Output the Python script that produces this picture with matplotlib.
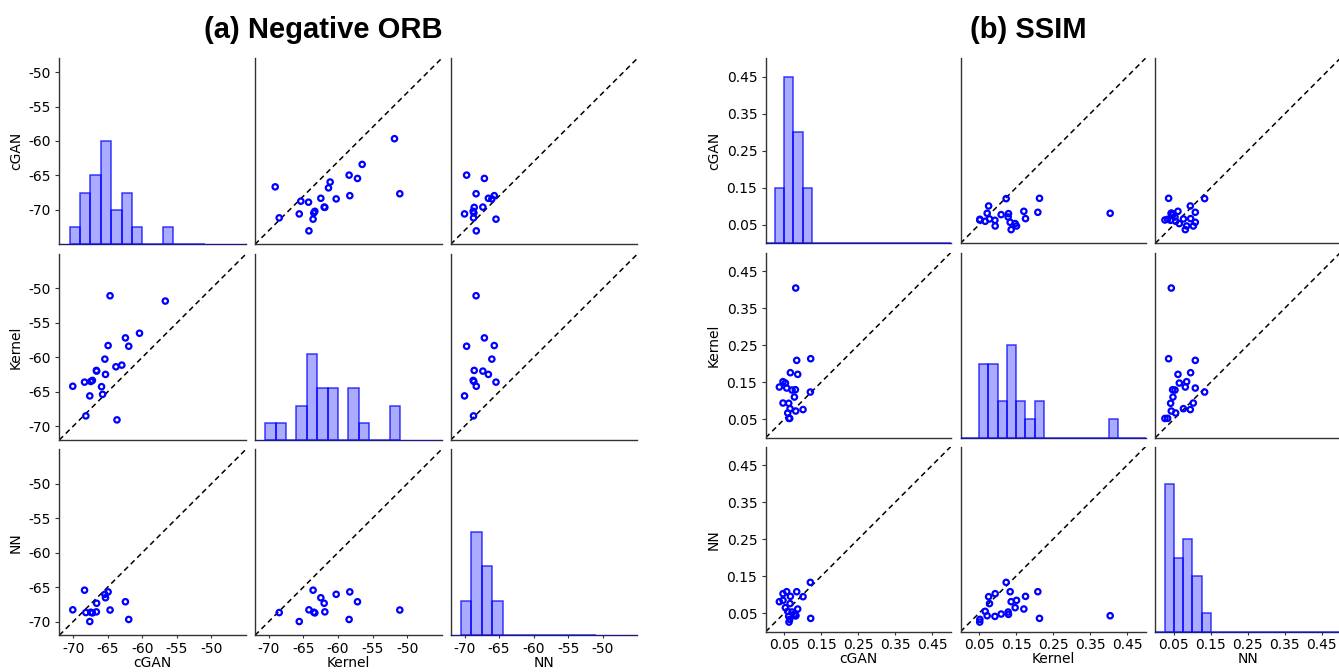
import numpy as np
import matplotlib
matplotlib.use("Agg")
import matplotlib.pyplot as plt

plt.rcParams['axes.unicode_minus'] = False
plt.rcParams['font.family'] = ['DejaVu Sans']

nan = np.nan
variables = ["cGAN", "Kernel", "NN"]

# ---- (a) Negative ORB ----
orb_cgan = [-70.05, -68.35, -68.16, -67.59, -67.45, -67.21, -66.64, -65.89, -65.74, -65.41,
            -65.32, -64.94, -64.66, -63.81, -63.66, -62.96, -62.44, -61.96, -60.40, -56.67, -66.60]
orb_kernel = [-64.20, -63.60, -68.50, -65.60, -63.50, -63.35, -61.90, -64.26, -65.37, -60.26,
              -62.48, -58.29, -51.06, -61.37, -69.08, -61.13, -57.18, -58.39, -56.50, -51.83, -62.00]
orb_nn = [-68.30, -65.45, -68.70, -70.00, -68.65, -68.75, -68.60, nan, nan, -66.05,
          -66.55, -65.70, -68.33, nan, nan, nan, -67.13, -69.70, nan, nan, -67.35]
orb_ticks = [-70, -65, -60, -55, -50]
orb_ticklabels = ["-70", "-65", "-60", "-55", "-50"]
orb_row0_label_shift = 3.0

# ---- (b) SSIM ----
ssim_cgan = [0.0811, 0.0838, 0.1216, 0.0667, 0.0865, 0.0468, 0.0532, 0.0369, 0.0568, 0.0712,
             0.0802, 0.1207, 0.0775, 0.0468, 0.0622, 0.0658, 0.1009, 0.0811, 0.0595, 0.0649, 0.0630]
ssim_kernel = [0.4045, 0.2090, 0.2135, 0.1757, 0.1712, 0.1514, 0.1477, 0.1369, 0.1342, 0.1288,
               0.1297, 0.1234, 0.1099, 0.0937, 0.0930, 0.0784, 0.0760, 0.0721, 0.0667, 0.0523, 0.0520]
ssim_nn = [0.0432, 0.1081, 0.0360, 0.0955, 0.0613, 0.0847, 0.0649, 0.0811, 0.1081, 0.0532,
           0.0468, 0.1333, 0.0477, 0.1027, 0.0414, 0.0760, 0.0946, 0.0432, 0.0550, 0.0333, 0.0260]
ssim_ticks = [0.05, 0.15, 0.25, 0.35, 0.45]
ssim_ticklabels = ["0.05", "0.15", "0.25", "0.35", "0.45"]

W, H = 1339, 672
fig = plt.figure(figsize=(W / 100, H / 100), dpi=100)


def px_axes(left, top, w, h):
    return fig.add_axes([left / W, 1 - (top + h) / H, w / W, h / H])


def draw_panel(data, lim, ticks, ticklabels, bins, col_lefts, row_tops, w, h,
               hist_top, row0_shift=0.0):
    for i in range(3):
        for j in range(3):
            ax = px_axes(col_lefts[j], row_tops[i], w, h)
            ax.set_xlim(lim)
            ax.set_ylim(lim)
            for s in ("top", "right"):
                ax.spines[s].set_visible(False)
            for s in ("left", "bottom"):
                ax.spines[s].set_color("#333333")
                ax.spines[s].set_linewidth(1.0)
            ax.tick_params(axis="y", length=3, width=0.8, pad=3, labelsize=10, color="#333333")
            ax.tick_params(axis="x", length=2, width=0.8, pad=2.5, labelsize=10, color="#333333")
            if i == j:
                vals = np.array(data[j], dtype=float)
                vals = vals[~np.isnan(vals)]
                hx = ax.twinx()
                hx.hist(vals, bins=bins, facecolor=(0, 0, 1, 0.33),
                        edgecolor=(0, 0, 1, 0.75), linewidth=1.1)
                hx.set_ylim(0, hist_top)
                hx.axis("off")
                ax.spines["bottom"].set_color("#1c1c78")
            else:
                ax.scatter(data[j], data[i], s=15, facecolors="none",
                           edgecolors="blue", linewidths=1.6, zorder=3)
                ax.plot([0, 1], [0, 1], transform=ax.transAxes, color="k",
                        lw=1.1, ls=(0, (3.5, 2.5)), zorder=2)
            if j == 0:
                if i == 0:
                    ax.set_yticks(np.array(ticks) + row0_shift)
                else:
                    ax.set_yticks(ticks)
                ax.set_yticklabels(ticklabels)
                ax.set_ylabel(variables[i], fontsize=10)
            else:
                ax.set_yticks([])
            if i == 2:
                ax.set_xticks(ticks)
                ax.set_xticklabels(ticklabels)
                ax.set_xlabel(variables[j], fontsize=10, labelpad=0)
            else:
                ax.set_xticks([])


orb_bins = np.arange(-70.5, -50.0, 1.5)
ssim_bins = np.arange(0.0, 0.5001, 0.025)

draw_panel([orb_cgan, orb_kernel, orb_nn], (-72, -45), orb_ticks, orb_ticklabels, orb_bins,
           [59.3, 255.0, 450.7], [58.3, 254.0, 449.3], 186.7, 186.0, 10.8,
           row0_shift=orb_row0_label_shift)
draw_panel([ssim_cgan, ssim_kernel, ssim_nn], (0.0, 0.5), ssim_ticks, ssim_ticklabels, ssim_bins,
           [765.7, 960.5, 1155.3], [58.3, 252.7, 446.7], 185.0, 185.0, 10.0)

fig.text(323 / W, 1 - 30 / H, "(a) Negative ORB", ha="center", va="center",
         fontsize=21, fontweight="bold", family=["Liberation Sans", "DejaVu Sans"])
fig.text(1028 / W, 1 - 30 / H, "(b) SSIM", ha="center", va="center",
         fontsize=21, fontweight="bold", family=["Liberation Sans", "DejaVu Sans"])

fig.savefig("out.png", dpi=100)
